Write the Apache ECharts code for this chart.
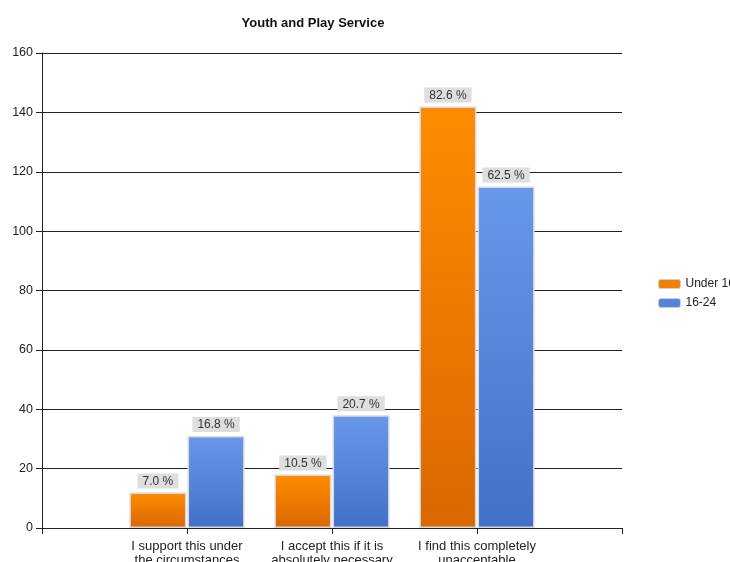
<!DOCTYPE html>
<html>
<head>
<meta charset="utf-8">
<script src="https://cdn.jsdelivr.net/npm/echarts@6/dist/echarts.min.js"></script>
<style>
  html, body { margin: 0; padding: 0; background: #fff; }
  #chart { width: 730px; height: 562px; }
</style>
</head>
<body>
<div id="chart"></div>
<script>
// Response categories (padded with empty slots at both ends of the axis)
var categories = ['', 'I support this under\nthe circumstances', 'I accept this if it is\nabsolutely necessary', 'I find this completely\nunacceptable', ''];
// Response counts per age group
var under16 = [null, 12, 18, 142, null];
var age16to24 = [null, 31, 38, 115, null];
var seriesNames = ['Under 16', '16-24'];
var yTicks = { min: 0, max: 160, interval: 20 };

function total(arr) {
  return arr.reduce(function (s, v) { return s + (v || 0); }, 0);
}

function pctLabel(arr) {
  var t = total(arr);
  return function (p) {
    if (p.value == null) return '';
    return (p.value / t * 100).toFixed(1) + ' %';
  };
}

function grad(top, bottom) {
  return new echarts.graphic.LinearGradient(0, 0, 0, 1, [
    { offset: 0, color: top },
    { offset: 1, color: bottom }
  ]);
}

var labelStyle = {
  show: true,
  position: 'top',
  distance: 4,
  color: '#333',
  fontFamily: 'Liberation Sans',
  fontSize: 12,
  backgroundColor: '#dedede',
  padding: [2, 5, 1, 5]
};

var chart = echarts.init(document.getElementById('chart'));
chart.setOption({
  animation: false,
  backgroundColor: '#fff',
  textStyle: { fontFamily: 'Liberation Sans' },
  title: {
    text: 'Youth and Play Service',
    left: 308,
    textAlign: 'center',
    top: 12,
    textStyle: { fontSize: 13, fontWeight: 'bold', color: '#111', fontFamily: 'Liberation Sans' }
  },
  legend: {
    orient: 'vertical',
    left: 653,
    top: 273,
    itemWidth: 22,
    itemHeight: 9,
    itemGap: 7,
    textStyle: { fontSize: 12, color: '#222', fontFamily: 'Liberation Sans' },
    data: [
      { name: seriesNames[0], itemStyle: { color: '#f27f00', borderColor: '#cfcfcf', borderWidth: 1 } },
      { name: seriesNames[1], itemStyle: { color: '#5584dc', borderColor: '#cfcfcf', borderWidth: 1 } }
    ]
  },
  grid: { left: 42, right: 108, top: 53, bottom: 34, containLabel: false, outerBoundsMode: 'none' },
  xAxis: {
    type: 'category',
    data: categories,
    boundaryGap: false,
    axisLine: { lineStyle: { color: '#222', width: 1 } },
    axisTick: { show: true, interval: 0, length: 6, lineStyle: { color: '#222' } },
    axisLabel: { interval: 0, color: '#222', fontSize: 13, lineHeight: 14, margin: 11 },
    splitLine: { show: false }
  },
  yAxis: {
    type: 'value',
    min: yTicks.min,
    max: yTicks.max,
    interval: yTicks.interval,
    axisLine: { show: true, lineStyle: { color: '#222', width: 1 } },
    axisTick: { show: true, length: 6, lineStyle: { color: '#222' } },
    axisLabel: { color: '#222', fontSize: 12.5, margin: 9 },
    splitLine: { show: true, lineStyle: { color: '#222', width: 1 } }
  },
  series: [
    {
      name: seriesNames[0],
      type: 'bar',
      data: under16,
      barWidth: 57,
      barGap: '2%',
      itemStyle: { color: grad('#ff8c00', '#da6700'), borderColor: '#d8d8d8', borderWidth: 1.5 },
      label: Object.assign({}, labelStyle, { formatter: pctLabel(under16) })
    },
    {
      name: seriesNames[1],
      type: 'bar',
      data: age16to24,
      barWidth: 57,
      itemStyle: { color: grad('#6898ea', '#4270c8'), borderColor: '#d8d8d8', borderWidth: 1.5 },
      label: Object.assign({}, labelStyle, { formatter: pctLabel(age16to24) })
    }
  ]
});
</script>
</body>
</html>
